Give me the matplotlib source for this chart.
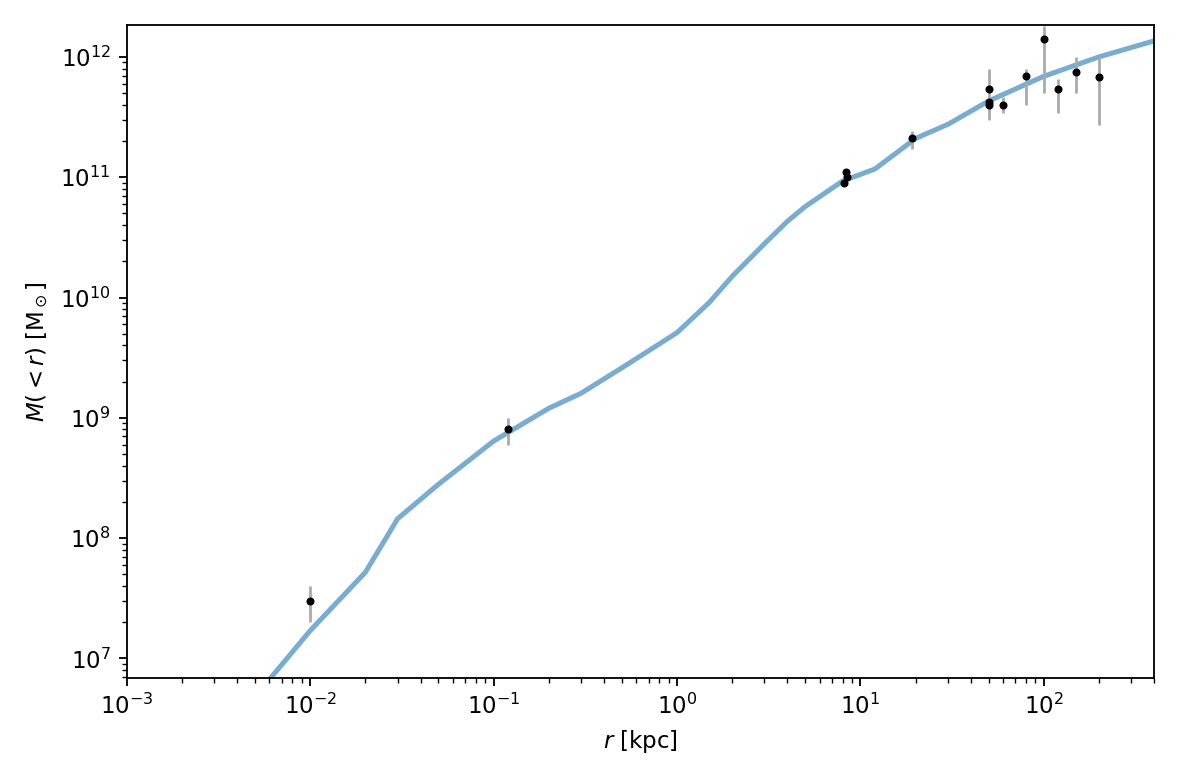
import matplotlib
matplotlib.use("Agg")
import matplotlib.pyplot as plt
import numpy as np

curve_r = [0.0061, 0.01, 0.02, 0.03, 0.05, 0.1, 0.2, 0.3, 0.5, 1, 1.5, 2, 3, 4, 5, 8, 12, 20, 30, 50, 100, 200, 400]
curve_m = [6.9e6, 1.7e7, 5.2e7, 1.45e8, 2.8e8, 6.4e8, 1.2e9, 1.6e9, 2.6e9, 5.1e9, 9.1e9, 1.5e10, 2.8e10, 4.3e10, 5.7e10, 9.3e10, 1.17e11, 2.1e11, 2.75e11, 4.3e11, 6.9e11, 1.0e12, 1.36e12]

pt_r = [0.01, 0.12, 8.1, 8.3, 8.4, 19, 50, 50, 50, 60, 80, 100, 120, 150, 200]
pt_m = [3e7, 8e8, 9e10, 1.1e11, 1.0e11, 2.1e11, 5.4e11, 4.2e11, 4.0e11, 4.0e11, 7e11, 1.4e12, 5.4e11, 7.5e11, 6.8e11]
pt_lo = [2e7, 6e8, 8.5e10, 1.05e11, 0.95e11, 1.7e11, 3e11, 3.9e11, 3.7e11, 3.4e11, 4e11, 5e11, 3.4e11, 5e11, 2.7e11]
pt_hi = [4e7, 1e9, 9.5e10, 1.15e11, 1.05e11, 2.4e11, 8e11, 4.5e11, 4.3e11, 4.6e11, 8e11, 1.8e12, 6.5e11, 1e12, 1e12]

fig, ax = plt.subplots(figsize=(11.79/1.65*1.0, 7.8/1.65), dpi=165)
ax.plot(curve_r, curve_m, color="C0", alpha=0.6, lw=2.2, zorder=1)
m = np.array(pt_m)
ax.errorbar(pt_r, pt_m, yerr=[m - np.array(pt_lo), np.array(pt_hi) - m],
            fmt="o", ms=2.5, color="k", ecolor="#aaaaaa", elinewidth=1.2, zorder=2)
ax.set_xscale("log"); ax.set_yscale("log")
ax.set_xlim(1e-3, 400); ax.set_ylim(6.9e6, 1.85e12)
ax.set_xlabel(r"$r$ [kpc]")
ax.set_ylabel(r"$M(<r)$ [M$_\odot$]")
fig.tight_layout()
fig.savefig("out.png", dpi=165)
